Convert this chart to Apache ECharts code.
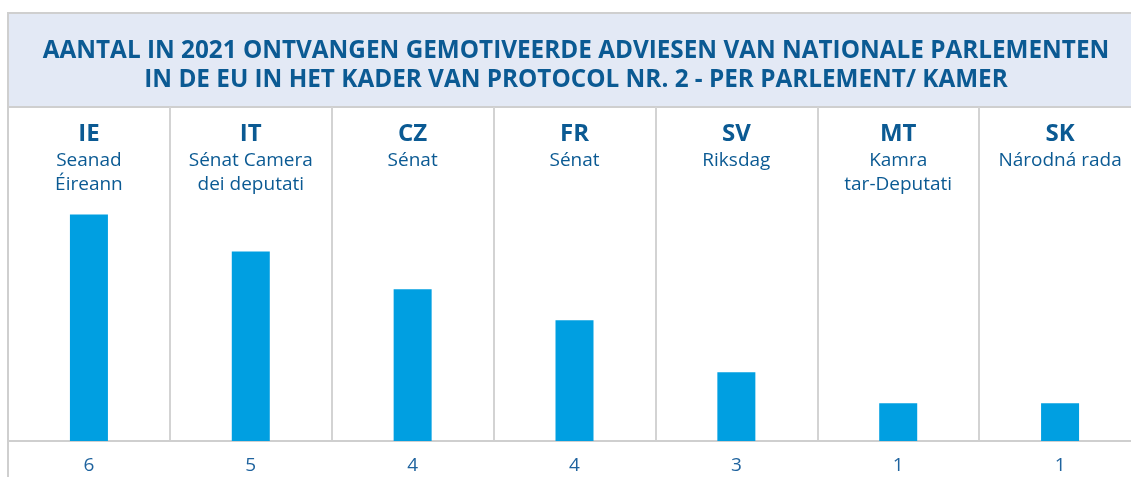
<!DOCTYPE html>
<html><head><meta charset="utf-8">
<script src="https://cdn.jsdelivr.net/npm/echarts@6/dist/echarts.min.js"></script>
<style>html,body{margin:0;padding:0;background:#fff}#c{width:1131px;height:477px}</style>
</head><body><div id="c"></div>
<script>
var codes = ['IE','IT','CZ','FR','SV','MT','SK'];
var chambers = ['Seanad\nÉireann','Sénat Camera\ndei deputati','Sénat','Sénat','Riksdag','Kamra\ntar-Deputati','Národná rada'];
var counts = ['6','5','4','4','3','1','1'];
var barValues = [6, 5.02, 4.02, 3.2, 1.82, 1, 1];
var titleLines = ['AANTAL IN 2021 ONTVANGEN GEMOTIVEERDE ADVIESEN VAN NATIONALE PARLEMENTEN','IN DE EU IN HET KADER VAN PROTOCOL NR. 2 - PER PARLEMENT/ KAMER'];

var dark = '#0b5a93';
var chart = echarts.init(document.getElementById('c'), null, {renderer:'canvas'});
chart.setOption({
  animation:false,
  backgroundColor:'#fff',
  graphic:[
    {type:'rect', shape:{x:8,y:13,width:1140,height:94}, style:{fill:'#e3e9f5', stroke:'#cfcfcf', lineWidth:2}, z:-1},
    {type:'line', shape:{x1:8,y1:13,x2:8,y2:477}, style:{stroke:'#cfcfcf', lineWidth:2}, z:5}
  ],
  title:{
    text: titleLines.join('\n'),
    left: 571, top: 32, textAlign:'center',
    textStyle:{fontFamily:'Open Sans', fontWeight:'bold', fontSize:24.3, lineHeight:29, color:dark}
  },
  grid:{left:8, right:-10, top:107, bottom:36, outerBoundsMode:'none', containLabel:false},
  xAxis:[
    {type:'category', data:codes, position:'bottom',
     axisLine:{show:true, lineStyle:{color:'#cfcfcf', width:2}},
     axisTick:{show:false},
     axisLabel:{interval:0, margin:15, formatter:function(v,i){return counts[i];},
       fontFamily:'Open Sans', fontSize:19, color:'#1f639e'}},
    {type:'category', data:codes, position:'top',
     axisLine:{show:false}, axisTick:{show:false},
     splitLine:{show:true, interval:0, lineStyle:{color:'#d3d3d3', width:2}},
     axisLabel:{interval:0, inside:true, margin:12, verticalAlign:'top',
       formatter:function(v,i){
         var s='{code|'+codes[i]+'}';
         chambers[i].split('\n').forEach(function(l){ s+='\n{name|'+l+'}'; });
         return s;
       },
       rich:{
         code:{fontFamily:'Open Sans', fontWeight:'bold', fontSize:24, lineHeight:30, color:dark, align:'center'},
         name:{fontFamily:'Open Sans', fontSize:19, lineHeight:24, color:dark, align:'center'}
       }}}
  ],
  yAxis:{type:'value', min:0, max:8.85, show:false, splitLine:{show:false}},
  series:[{type:'bar', data:barValues, barWidth:38, itemStyle:{color:'#009fe1'}, xAxisIndex:0}]
});
</script></body></html>
